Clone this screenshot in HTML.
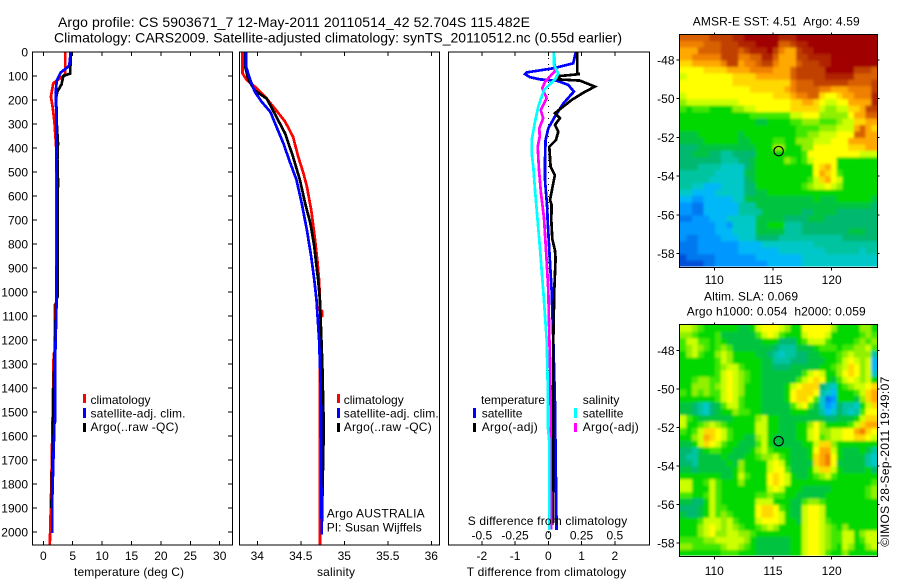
<!DOCTYPE html>
<html lang="en">
<head>
<meta charset="utf-8">
<title>Argo profile</title>
<style>
html,body{margin:0;padding:0;background:#fff;}
#chart{display:block;position:absolute;left:0;top:0;}
text{font-family:"Liberation Sans",sans-serif;font-size:12px;fill:#000;}
.big{font-size:14px;}
</style>
</head>
<body>
<svg id="chart" xmlns="http://www.w3.org/2000/svg" width="900" height="580" viewBox="0 0 900 580">
<defs>
<filter id="soften" x="-5%" y="-5%" width="110%" height="110%"><feGaussianBlur stdDeviation="1.4"/></filter>
<clipPath id="sst-clip"><rect x="680" y="35" width="197.5" height="231.5"/></clipPath>
<clipPath id="sla-clip"><rect x="680" y="325" width="197.5" height="230.5"/></clipPath>
</defs>
<rect x="0" y="0" width="900" height="580" fill="#fff"/>
<g id="marks"></g>
<g>
<text class="big" x="58" y="27" textLength="472">Argo profile: CS 5903671_7 12-May-2011 20110514_42 52.704S 115.482E</text>
<text class="big" x="54" y="42.5" textLength="568">Climatology: CARS2009. Satellite-adjusted climatology: synTS_20110512.nc (0.55d earlier)</text>
<text x="692.7" y="25.7" textLength="167" xml:space="preserve">AMSR-E SST: 4.51  Argo: 4.59</text>
<text x="704" y="300.7" textLength="94">Altim. SLA: 0.069</text>
<text x="686.7" y="315.3" textLength="179" xml:space="preserve">Argo h1000: 0.054  h2000: 0.059</text>
<text x="74" y="576" textLength="110">temperature (deg C)</text>
<text x="317" y="576" textLength="38">salinity</text>
<text x="466.7" y="576" textLength="159.5">T difference from climatology</text>
<text x="467.7" y="525" textLength="159.5">S difference from climatology</text>
<text x="0" y="0" transform="translate(889,546.7) rotate(-90)" textLength="170">©IMOS 28-Sep-2011 19:49:07</text>
</g>
<g>
<rect x="83" y="394" width="3" height="9" fill="#ff0000"/>
<rect x="83" y="408" width="3" height="10" fill="#0000ff"/>
<rect x="83" y="423" width="3" height="9" fill="#000"/>
<text x="90.5" y="404">climatology</text>
<text x="90.5" y="417.5" textLength="95">satellite-adj. clim.</text>
<text x="90.5" y="431" textLength="88">Argo(..raw -QC)</text>
</g>
<g>
<rect x="337" y="394" width="3" height="9" fill="#ff0000"/>
<rect x="337" y="408" width="3" height="10" fill="#0000ff"/>
<rect x="337" y="423" width="3" height="9" fill="#000"/>
<text x="343.7" y="404">climatology</text>
<text x="343.7" y="417.5" textLength="95">satellite-adj. clim.</text>
<text x="343.7" y="431" textLength="88">Argo(..raw -QC)</text>
<text x="326.7" y="517.7" textLength="98">Argo AUSTRALIA</text>
<text x="326.7" y="531.7" textLength="95">PI: Susan Wijffels</text>
</g>
<g>
<text x="481" y="404" textLength="64">temperature</text>
<text x="582.7" y="404">salinity</text>
<rect x="473" y="408" width="3" height="10" fill="#0000ff"/>
<rect x="473" y="423" width="3" height="9" fill="#000"/>
<rect x="574" y="408" width="3" height="10" fill="#00ffff"/>
<rect x="574" y="423" width="3" height="9" fill="#ff00ff"/>
<text x="481.7" y="417.5">satellite</text>
<text x="481.7" y="431" textLength="56">Argo(-adj)</text>
<text x="582.7" y="417.5">satellite</text>
<text x="582.7" y="431" textLength="56">Argo(-adj)</text>
</g>
</svg>
<script>
// ---- axis tick values ----
const depthTicks = [0,100,200,300,400,500,600,700,800,900,1000,1100,1200,1300,1400,1500,1600,1700,1800,1900,2000];
const tempTicks = [0,5,10,15,20,25,30];
const salTicks = [34,34.5,35,35.5,36];
const salTickLabels = ['34','34.5','35','35.5','36'];
const tDiffTicks = [-2,-1,0,1,2];
const tDiffLabels = ['-2','-1','0','1','2'];
const sDiffTicks = [-0.5,-0.25,0,0.25,0.5];
const sDiffLabels = ['-0.5','-0.25','0','0.25','0.5'];
const lonTicks = [110,115,120];
const latTicks = [-48,-50,-52,-54,-56,-58];

// ---- temperature profiles ----
const tClimDepth = [0,90,100,130,186,230,295,400,1050,1054,1250,1256,1500,1700,1900,2054];
const tClimValue = [3.75,3.75,3.4,1.7,1.3,1.6,1.9,2.2,2.2,1.94,1.94,1.77,1.6,1.45,1.28,1.1];
const tArgoDepth = [0,90,100,135,165,190,300,380,450,540,620,1020,1030,1400,1650,1700,1800,1900];
const tArgoValue = [4.65,4.6,3.4,3.1,2.4,2.2,2.3,2.5,2.4,2.5,2.45,2.45,2.2,1.75,1.6,1.55,1.45,1.4];
const tSatDepth = [0,50,60,85,118,170,240,620,1054,1256,1540,1550,1710,1860,2005];
const tSatValue = [4.65,4.45,4.3,3,2.3,2.1,2.2,2.3,2.25,2.04,2.0,1.89,1.7,1.53,1.5];

// ---- salinity profiles ----
const sClimDepth = [0,89,117,144,186,235,290,353,436,505,561,658,770,867,950,1033,1075,1080,1100,1105,1783,2054];
const sClimValue = [33.83,33.83,33.88,33.97,34.09,34.2,34.32,34.41,34.47,34.53,34.57,34.62,34.66,34.69,34.71,34.72,34.72,34.745,34.745,34.72,34.72,34.72];
const sArgoDepth = [0,60,117,160,195,270,339,436,533,630,714,811,922,950,1033,1300,1500,1640,2000];
const sArgoValue = [33.86,33.86,33.9,33.97,34.11,34.22,34.32,34.41,34.49,34.55,34.61,34.655,34.69,34.70,34.72,34.747,34.76,34.76,34.74];
const sSatDepth = [0,60,117,165,207,249,311,381,464,533,630,742,853,950,1033,1200,1400,2010];
const sSatValue = [33.87,33.87,33.92,33.97,34.05,34.15,34.22,34.3,34.38,34.45,34.51,34.57,34.62,34.655,34.68,34.71,34.73,34.74];

// ---- differences from climatology ----
const dTSatDepth = [0,47,68,85,92,105,114,119,137,165,214,269,318,367,450,533,617,658,700,825,992,1200,1450,1992];
const dTSatValue = [.83,.75,.15,-.65,-.7,-.55,-.25,.25,.6,.77,.45,.2,0,-.08,-.1,-.1,-.05,-.03,-.02,.03,.1,.15,.2,.25];
const dTArgoDepth = [0,89,92,100,114,119,144,170,200,255,276,304,332,367,395,478,513,561,617,637,700,780,825,860,992,1200,1500,1963];
const dTArgoValue = [.87,.87,.95,.35,.3,.95,1.4,1.05,.7,.2,.35,.2,.3,.23,.03,.07,.2,.13,.05,.1,.09,.12,.2,.22,.18,.15,.14,.15];
const dSArgoDepth = [0,80,124,151,193,242,276,318,353,395,492,589,692,825,992,1200,1283,1500,1990];
const dSArgoValue = [.04,.05,-.025,-.045,-.012,-.057,-.038,-.068,-.065,-.08,-.07,-.055,-.032,-.017,0,.008,.013,.018,.02];
const dSSatDepth = [0,50,89,114,158,228,290,367,422,478,575,686,825,992,1200,1367,1550,1620,1992];
const dSSatValue = [.04,.04,.075,.05,-.032,-.075,-.1,-.125,-.125,-.113,-.1,-.083,-.062,-.038,-.012,-.005,-.005,.007,.007];

// ---- map fields: one character per cell, base-36 index into mapColors; spaces are ignored ----
const mapColors = ['#0050d8','#0078f0','#0098ff','#00b8f8','#00c8c8','#00c4a0','#00b870','#00c440','#00d800','#40e800','#90f000','#ccff00','#ffff00','#ffd800','#ffa800','#f08000','#d86000','#c04000','#b02000','#a00000'];
const sstGrid = [
"ggggg hhhh ii jjjjjj iii jjjjjjjjjjjjjj",
"ffff ggg hhh iii jjjj ggh ii jjjjjjjjjjjj",
"eee gggg hhh gh iiij h fee h ii jjjjjjjjjjj",
"ee fffff hhh ff gg ii g eee hh iiii jjjjjjjj",
"dd eeeee f hh eff gh h f eee gh hhii jjjjjjjj",
"cccc dddd ee eeff ff eee g hhhhh jjjjj hhh g",
"bcc cccccc ddddeee eee g hhhhhi iii i ggg g",
"ccccccccc ddddddd ddd f ggghhh hhh g ggg h",
"cccccccccccc dddddd ef gggg ffeee ffff h",
"b ccccccccccccccc ddd eff gg dcc dee fff i",
"a bbbbbbbbb ccccccccc ddee dc bb cc eeee i",
"98 9998888 aabb cccccc ddddd b aa bb dde hh",
"888888888888 9999999 bb ccc aaa aa c ee gg",
"8888888888888 778888 99aaa 999 abb dd ee",
"88888888888888888888 9999 aaa bbb eg ed",
"777 88888887 888888888 99 aabbb ccc gg ee",
"7777 888888 77 8888 99 88 aaa bbbccc eeeee",
"66677777 77777 888 aa 888 aa cccccc dddee",
"66 77766 55 6666 88888888 9 ccccc ccccbbb",
"6666666 555 667 88888 a9 89 bcccc 8888888",
"666 5555 4444 67 8888888888 cdec 8888888",
"555555 44444 778 888888888 cedc 9 888888",
"55555 444444 678 88888888 9 bdec b 888888",
"5544 3334444 668 8888888 9abbcb a 888888",
"44 3333 44444 6677 8888888888888888888",
"33 22 33333 44 7777777777 7787778888887",
"22 11 333333 555 777777777777777777776",
"22 11 333333 5555 77777776677776666666",
"1122 2333 44444 77777 6666 777 666666666",
"222222 332 4444 77888 555 66666 66666666",
"222222 333 4444 77777 555 66666666 777 66",
"21122 22333 444 6666 55555555555 666666",
"111 2222222 33334444 44444 55555555555",
"111 2222222 333333344 444444 555555455",
"011 111 2222222 33333333 4444444444444",
"0000 11 222222222 333333 4444444444444"
];
const slaGrid = [
"bb a988 8888778 bcccb a88 ccccc a88 88aa8",
"aa 9888 9777777 9bcb9 888 bcccb 88888 9a9",
"9b b998 98 77777 7888 666 8 9bbb9 8888 9a9a",
"9ab a98 9a9 777777 76 555 777 8999 899 aab9",
"8ab 988 aba 888877 65 455 667 7888 9aba aa5",
"888 888 9ba 888887 75 556 667 7788 9bcb ab3",
"888 888 9abb 98887 7666 7777 7889 abdc ab3",
"888 888 9bcba 9887 777777 9bcb 88 acdc ab4",
"88 9aa9 9bcba 988 777777 9bcdc 87 9bcb ab8",
"88 aaa9 abcba 888 77778 bcddd 654 89ab bcd",
"98 a9a9 9bcba 888 77778 cdddc 543 8889 bde",
"88 8888 9bcb9 888 77778 cddc9 412 8887 ade",
"77 654 67 9bb9 888 77777 9bc9 7423 6 554 8bd",
"77 654 67 88a9 988 77777 8887 7534 6 545 9cc",
"b 98777 77 788 88 ab 88777 7777766 7778 bdd",
"b 88 9aba 988 888 bb 8877 788 ac a88 889b dee",
"98 9b ddc b9 8888 bb 8877 788 bc a abbc cef dc",
"88 ab edc b9 8877 ab 8777 788 bc 9 abbc cddcb",
"77 8b dcb 98 8777 9b 8777 7788 bdd a 8888888",
"665 7899 88 7778 ab 9888 7778 cee b 87778 75",
"655 7777 87 7788 9a ab98 7778 def c 87777 54",
"665 7777 78 7a88 88 bcb8 7777 def c 77777 54",
"776 7777 77 8a88 88 bcc9 7778 bdd b 87777 86",
"888 8888 77 8b98 88 cdcb 8778 9ab 9 8888888",
"bb8 89b9 88 8a88 88 cdcb 88888888 8888889",
"bb8 88b9 88 8888 88 bcb8 88777778 888889a",
"998 89b9 88 8888 99 a998 87777788 888889a",
"776 68b9 88 8888 bb b888 77 9aa9 88 8888888",
"666 78b9 98 8888 cd dc98 77 bccb 88 8888888",
"766 78b9 a9 8888 cd dcb8 77 bccb 88 8888888",
"888 9bbb ab 9888 bc ccb8 87 bccb 98 8888888",
"888 abcb ab a988 9a ba88 88 bccb a9 8a88888",
"888 abca ab baa9 88 8888 88 bccb a9 9bb8abb",
"999 9aab bb bba8 77 7777 88 bccb a9 9bb89bb",
"aa9 9999 ab ba98 77 7777 88 bccb a9 8ba88ab",
"888 8888 99 9888 77 7777 88 bccb 98 8a88888"
];

const svgNS = 'http://www.w3.org/2000/svg';
const marks = document.getElementById('marks');

function make(tag, attrs, name, parent){
  const el = document.createElementNS(svgNS, tag);
  for (const k in attrs) el.setAttribute(k, attrs[k]);
  
  
  (parent || marks).appendChild(el);
  return el;
}
function line(x1,y1,x2,y2,name){
  return make('line',{x1:x1,y1:y1,x2:x2,y2:y2,stroke:'#000','stroke-width':1,'shape-rendering':'crispEdges'},name);
}
function label(x,y,str,anchor,name){
  const el = make('text',{x:x,y:y,'text-anchor':anchor},name);
  el.textContent = str;
  return el;
}

// ---- axis functions ----
const top0 = 52, bottom0 = 545;
const depthY = d => top0 + d*0.24;
const tempX = t => 43.3 + t*5.88;
const salX = s => 257.3 + (s-34)*87;
const tDiffX = t => 548.3 + t*33.25;
const sDiffX = s => 548.3 + s*133;
const sstX = lon => 714.3 + (lon-110)*11.74;
const sstY = lat => 60 + (-48-lat)*19.37;
const slaX = sstX;
const slaY = lat => 350.7 + (-48-lat)*19.23;

function frame(x0,x1,y0,y1,name){
  make('rect',{x:x0,y:y0,width:x1-x0,height:y1-y0,fill:'none',stroke:'#000','stroke-width':1,'shape-rendering':'crispEdges'},name);
}
function series(xf,depths,values,color,name){
  const pts = depths.map((d,i)=> xf(values[i]).toFixed(1)+','+depthY(d).toFixed(1)).join(' ');
  make('polyline',{points:pts,fill:'none',stroke:color,'stroke-width':2.7,'stroke-linejoin':'miter','shape-rendering':'crispEdges'},name);
}
function xTicks(ticks,xf,y0,y1){
  ticks.forEach(t=>{
    line(xf(t),y0,xf(t),y0+4,'x-tick-top');
    line(xf(t),y1,xf(t),y1-4,'x-tick-bottom');
  });
}

// ---- map heatmaps ----
function drawMap(gridRows,xf,yf,clipId,name){
  const lon0 = 107.12, lat0 = -46.69, dLon = 0.4923, dLat = 1/3;
  const grid = gridRows.map(row => row.replace(/ /g,''));
  const nRows = grid.length;
  const clip = make('g',{'clip-path':'url(#'+clipId+')'},name+'-clip');
  const soft = make('g',{filter:'url(#soften)'},name+'-field',clip);
  // one extra ring of clamped cells keeps the softening from fading at the map edge
  for (let r=-1;r<=nRows;r++){
    const row = grid[Math.max(0,Math.min(nRows-1,r))];
    for (let c=-1;c<=34;c++){
      const ch = row[Math.max(0,Math.min(row.length-1,c))];
      const x0 = xf(lon0+c*dLon), x1 = xf(lon0+(c+1)*dLon);
      const y0 = yf(lat0-r*dLat), y1 = yf(lat0-(r+1)*dLat);
      const cell = document.createElementNS(svgNS,'rect');
      cell.setAttribute('x',x0.toFixed(1));
      cell.setAttribute('y',y0.toFixed(1));
      cell.setAttribute('width',(x1-x0+0.4).toFixed(1));
      cell.setAttribute('height',(y1-y0+0.4).toFixed(1));
      cell.setAttribute('fill',mapColors[parseInt(ch,36)]);
      
      
      soft.appendChild(cell);
    }
  }
}
function mapAxes(xf,yf,x0,x1,y0,y1,labelY,name){
  frame(x0,x1,y0,y1,name+'-frame');
  lonTicks.forEach(t=>{
    line(xf(t),y0,xf(t),y0-2,'lon-tick-top');
    line(xf(t),y1,xf(t),y1+3,'lon-tick-bottom');
    label(xf(t),labelY,String(t),'middle','lon-tick-label');
  });
  latTicks.forEach(t=>{
    line(x0,yf(t),x0-3,yf(t),'lat-tick-left');
    line(x1,yf(t),x1+2,yf(t),'lat-tick-right');
    label(674.5,yf(t)+4.5,String(t),'end','lat-tick-label');
  });
}
const floatLon = [115.482];
const floatLat = [-52.704];
function marker(xf,yf,name){
  make('circle',{cx:xf(floatLon[0]),cy:yf(floatLat[0]),r:4.7,fill:'none',stroke:'#000','stroke-width':1.2},name);
}

// ---- temperature panel ----
series(tempX,tClimDepth,tClimValue,'#ff0000','temperature-climatology-line');
series(tempX,tArgoDepth,tArgoValue,'#000000','temperature-argo-line');
series(tempX,tSatDepth,tSatValue,'#0000ff','temperature-satellite-line');
frame(32.5,232.5,top0,bottom0,'temperature-panel-frame');
xTicks(tempTicks,tempX,top0,bottom0);
tempTicks.forEach(t=>label(tempX(t),560,String(t),'middle','temperature-tick-label'));
depthTicks.forEach(d=>{
  line(33,depthY(d),37,depthY(d),'depth-tick-left');
  line(232,depthY(d),228,depthY(d),'depth-tick-right');
  label(28,depthY(d)+4.5,String(d),'end','depth-tick-label');
});

// ---- salinity panel ----
series(salX,sClimDepth,sClimValue,'#ff0000','salinity-climatology-line');
series(salX,sArgoDepth,sArgoValue,'#000000','salinity-argo-line');
series(salX,sSatDepth,sSatValue,'#0000ff','salinity-satellite-line');
frame(239.5,439.5,top0,bottom0,'salinity-panel-frame');
xTicks(salTicks,salX,top0,bottom0);
salTicks.forEach((s,i)=>label(salX(s),560,salTickLabels[i],'middle','salinity-tick-label'));

// ---- difference panel ----
make('line',{x1:tDiffX(0),y1:top0,x2:tDiffX(0),y2:bottom0,stroke:'#000','stroke-width':1,'stroke-dasharray':'1 5','shape-rendering':'crispEdges'},'zero-difference-line');
series(tDiffX,dTSatDepth,dTSatValue,'#0000ff','t-difference-satellite-line');
series(tDiffX,dTArgoDepth,dTArgoValue,'#000000','t-difference-argo-line');
series(sDiffX,dSArgoDepth,dSArgoValue,'#ff00ff','s-difference-argo-line');
series(sDiffX,dSSatDepth,dSSatValue,'#00ffff','s-difference-satellite-line');
frame(448.5,649.5,top0,bottom0,'difference-panel-frame');
xTicks(tDiffTicks,tDiffX,top0,bottom0);
tDiffTicks.forEach((t,i)=>label(tDiffX(t),560,tDiffLabels[i],'middle','t-difference-tick-label'));
sDiffTicks.forEach((s,i)=>label(sDiffX(s),539.3,sDiffLabels[i],'middle','s-difference-tick-label'));

// ---- maps ----
drawMap(sstGrid,sstX,sstY,'sst-clip','sst-map');
mapAxes(sstX,sstY,679.5,877.5,34.5,267.5,284,'sst-map');
marker(sstX,sstY,'sst-float-marker');
drawMap(slaGrid,slaX,slaY,'sla-clip','sla-map');
mapAxes(slaX,slaY,679.5,877.5,324.5,556.5,575,'sla-map');
marker(slaX,slaY,'sla-float-marker');
</script>
</body>
</html>
